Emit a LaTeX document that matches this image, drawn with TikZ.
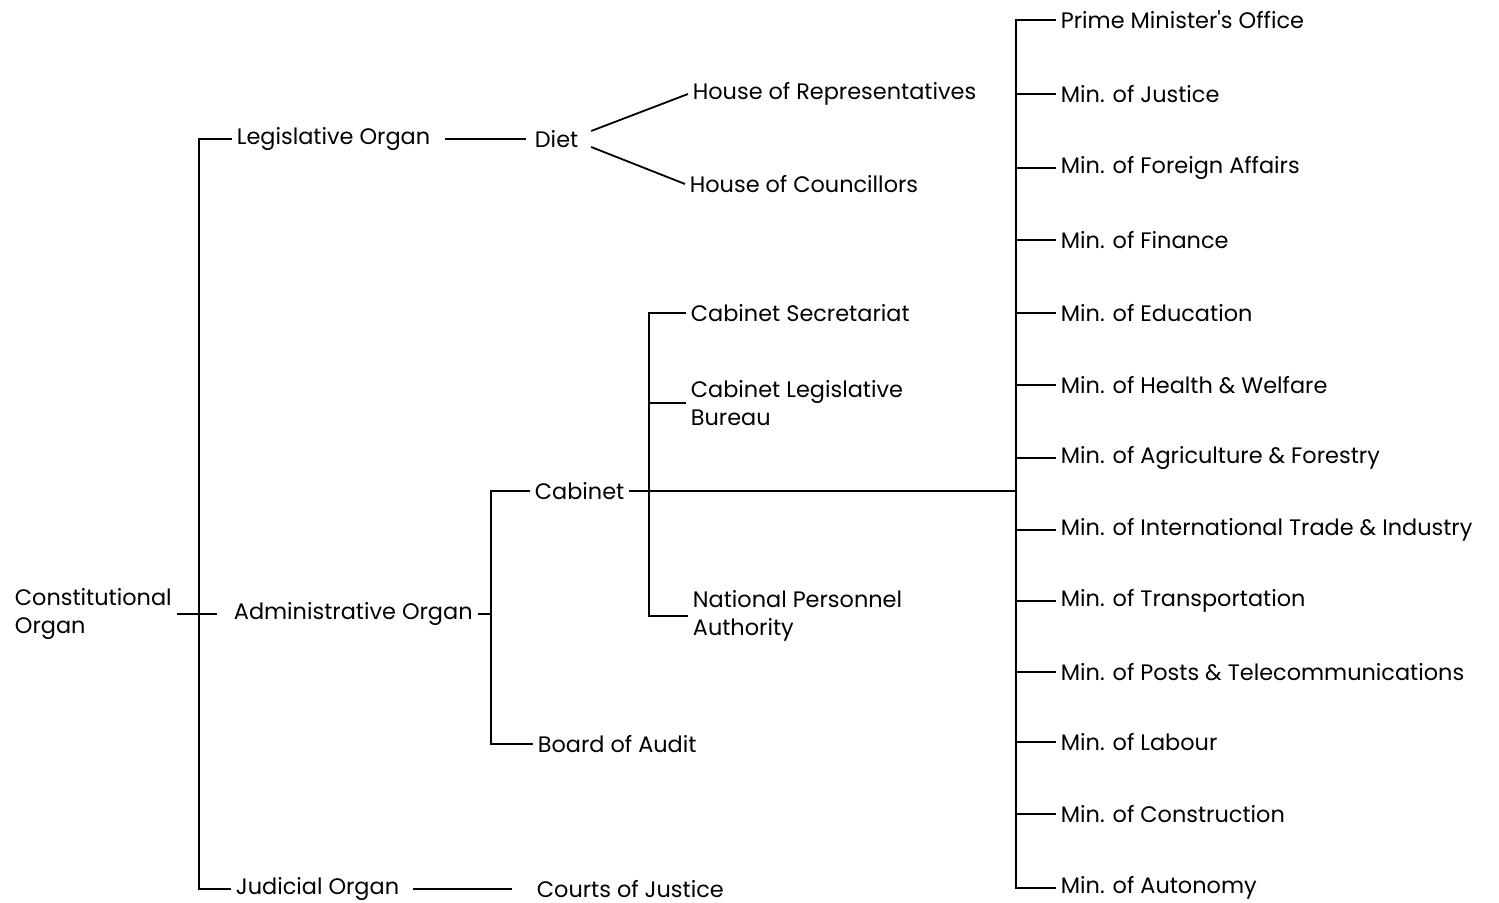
\documentclass[tikz,border=0pt]{standalone}
\usepackage{fontspec}
\setmainfont{Poppins}
\usepackage{tikz}
\usetikzlibrary{positioning}

\tikzset{
  org/.style={anchor=west, inner xsep=2pt, inner ysep=1pt, align=left,
    font=\fontsize{11.2}{13.8}\selectfont},
  link/.style={line width=0.9pt}
}

\begin{document}
\begin{tikzpicture}[x=0.5pt,y=-0.5pt,link]
\useasboundingbox (0,0) rectangle (1499,903);

% first level
\node[org] (const) at (10,614) {Constitutional\\Organ};
\node[org] (leg) at (232,139) {Legislative Organ};
\node[org] (adm) at (229,614) {Administrative Organ};
\node[org] (jud) at (231,889) {Judicial Organ};

% second level
\node[org] (diet) at (530,139) {Diet};
\node[org] (cab) at (530,491) {Cabinet};
\node[org] (boa) at (533,744) {Board of Audit};
\node[org] (cou) at (532,889) {Courts of Justice};

% third level
\node[org] (hrep) at (688,94) {House of Representatives};
\node[org] (hcou) at (685,184) {House of Councillors};
\node[org] (sec) at (686,313) {Cabinet Secretariat};
\node[org] (clb) at (686,403) {Cabinet Legislative\\Bureau};
\node[org] (npa) at (688,616) {National Personnel\\Authority};

% ministries
\foreach \i/\y/\t in {1/20/Prime Minister\textquotesingle s Office, 2/94/Min. of Justice,
  3/168/Min. of Foreign Affairs, 4/240/Min. of Finance,
  5/313/Min. of Education, 6/385/Min. of Health \& Welfare,
  7/458/Min. of Agriculture \& Forestry,
  8/530/Min. of International Trade \& Industry,
  9/601/Min. of Transportation, 10/672/Min. of Posts \& Telecommunications,
  11/742/Min. of Labour, 12/814/Min. of Construction, 13/888/Min. of Autonomy}
  \node[org] (m\i) at (1056,\y) {\t};

% connectors
\draw (leg.west) -- ++(-33,0) |- (jud.west);
\draw (const.east) -- ([xshift=-6pt]adm.west);
\draw[shorten <=5pt, shorten >=2pt] (leg.east) -- (diet.west);
\draw ([shift={(8,-8)}]diet.east) -- (hrep.west);
\draw ([shift={(8,8)}]diet.east) -- (hcou.west);

\draw (cab.west) -- ++(-39,0) coordinate (ctrunk) |- (boa.west);
\draw (adm.east) -- (adm.east -| ctrunk);
\draw[shorten <=4.5pt, shorten >=10pt] (jud.east) -- (cou.west);

\draw (sec.west) -- ++(-37,0) |- (npa.west);
\draw (clb.west) -- ++(-37,0);

\draw (m1.west) -- ++(-40,0) coordinate (mtop) |- (m13.west);
\foreach \i in {2,...,12}
  \draw (m\i.west) -- ++(-40,0);
\draw (cab.east) -- (cab.east -| mtop);
\end{tikzpicture}
\end{document}
